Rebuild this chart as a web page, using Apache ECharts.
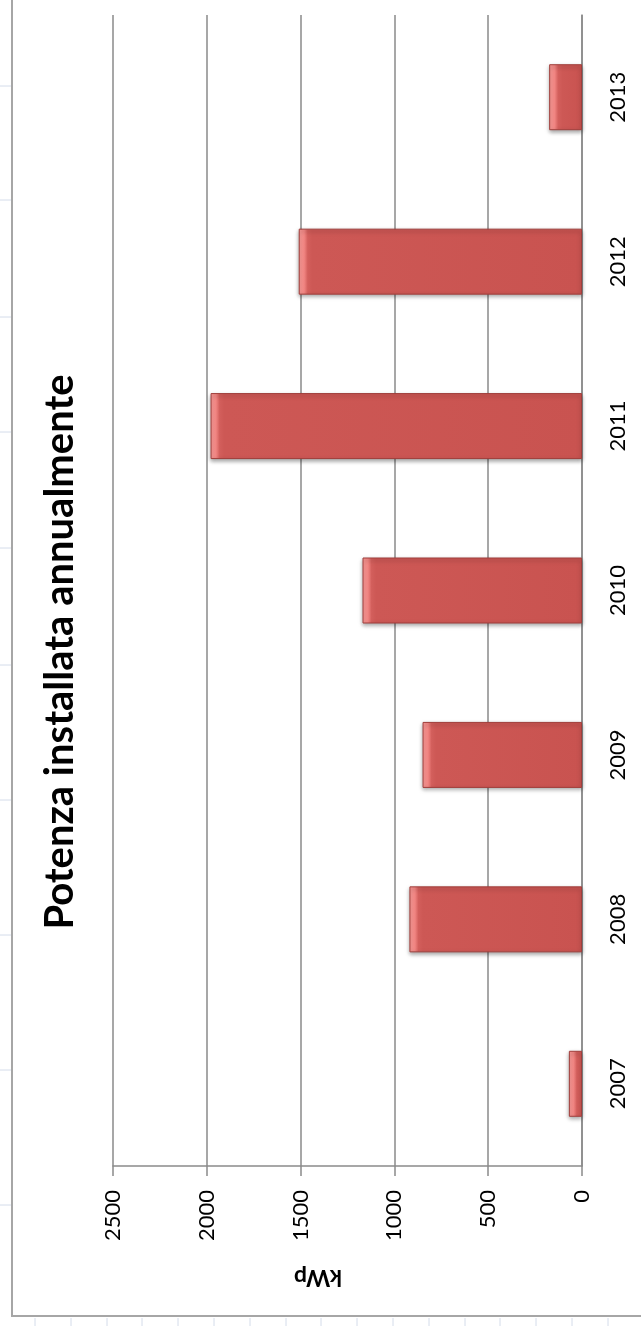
<!DOCTYPE html>
<html>
<head>
<meta charset="utf-8">
<script src="https://cdn.jsdelivr.net/npm/echarts@6/dist/echarts.min.js"></script>
<style>
    html, body { margin: 0; padding: 0; background: #fff; }
    #chart { width: 641px; height: 1326px; }
</style>
</head>
<body>
<div id="chart"></div>
<script>
    // dati
    var years = ['2007', '2008', '2009', '2010', '2011', '2012', '2013'];
    var kwp = [70, 920, 850, 1170, 1980, 1510, 175];
    var valueTicks = [0, 500, 1000, 1500, 2000, 2500];
    var titleText = 'Potenza installata annualmente';
    var unitText = 'kWp';

    var fontFam = 'Lato, "Open Sans", sans-serif';
    var gridCol = '#8a8a8a';
    var plotLen = 469; // px tra 0 e 2500

    // bevel chiaro sulla testa della barra
    function barStyle(v) {
        var len = v / valueTicks[valueTicks.length - 1] * plotLen;
        var f = Math.min(0.6, 9 / len);
        return {
            color: {
                type: 'linear', x: 0, y: 0, x2: 1, y2: 0,
                colorStops: [
                    {offset: 0, color: '#fb9b98'},
                    {offset: f * 0.6, color: '#f28683'},
                    {offset: f, color: '#d35f5c'},
                    {offset: Math.min(1, f * 1.5), color: '#cd5855'},
                    {offset: 1, color: '#c95350'}
                ]
            },
            borderColor: '#a13f3c',
            borderWidth: 1,
            shadowColor: 'rgba(0,0,0,0.35)',
            shadowBlur: 4,
            shadowOffsetY: 2
        };
    }

    var chart = echarts.init(document.getElementById('chart'));

    // righe e colonne del foglio dietro al grafico
    var sheet = [];
    var rowY = [86, 200, 317, 432, 548, 665, 800, 935, 1070, 1205];
    for (var i = 0; i < rowY.length; i++) {
        sheet.push({type: 'line', shape: {x1: 0, y1: rowY[i], x2: 11, y2: rowY[i]}, style: {stroke: '#d4dcea', lineWidth: 1}});
    }
    for (var c = 35; c < 641; c += 35.8) {
        sheet.push({type: 'line', shape: {x1: Math.round(c), y1: 1318, x2: Math.round(c), y2: 1326}, style: {stroke: '#d4dcea', lineWidth: 1}});
    }

    chart.setOption({
        animation: false,
        textStyle: {fontFamily: fontFam},
        grid: {left: 113, right: 59, top: 15, bottom: 160, containLabel: false},
        xAxis: {
            type: 'value',
            inverse: true,
            min: 0,
            max: 2500,
            interval: 500,
            position: 'bottom',
            axisLine: {show: true, lineStyle: {color: gridCol, width: 1.5}},
            axisTick: {show: true, length: 10, lineStyle: {color: gridCol, width: 1.5}},
            splitLine: {show: true, lineStyle: {color: gridCol, width: 1.5}},
            axisLabel: {
                rotate: 90, margin: 24, fontSize: 22, color: '#000', fontFamily: fontFam,
                formatter: function (v) { return String(v); }
            }
        },
        yAxis: {
            type: 'category',
            data: years,
            position: 'right',
            axisLine: {show: true, lineStyle: {color: gridCol, width: 1.5}},
            axisTick: {show: false},
            axisLabel: {rotate: 90, margin: 25, fontSize: 22, color: '#000', fontFamily: fontFam}
        },
        series: [{
            type: 'bar',
            barWidth: 66,
            data: kwp.map(function (v) {
                return {value: v, itemStyle: barStyle(v)};
            })
        }],
        graphic: sheet.concat([
            {
                type: 'polyline',
                shape: {points: [[12, 0], [12, 1316], [641, 1316]]},
                style: {stroke: '#a6a6a6', lineWidth: 2, fill: null}
            },
            {
                type: 'text',
                x: 60, y: 652,
                rotation: Math.PI / 2,
                style: {
                    text: titleText, fontFamily: fontFam, fontWeight: 'bold', fontSize: 40,
                    fill: '#000', align: 'center', verticalAlign: 'middle'
                }
            },
            {
                type: 'text',
                x: 318, y: 1277,
                rotation: Math.PI,
                style: {
                    text: unitText, fontFamily: fontFam, fontWeight: 'bold', fontSize: 23,
                    fill: '#000', align: 'center', verticalAlign: 'middle'
                }
            }
        ])
    });
</script>
</body>
</html>
